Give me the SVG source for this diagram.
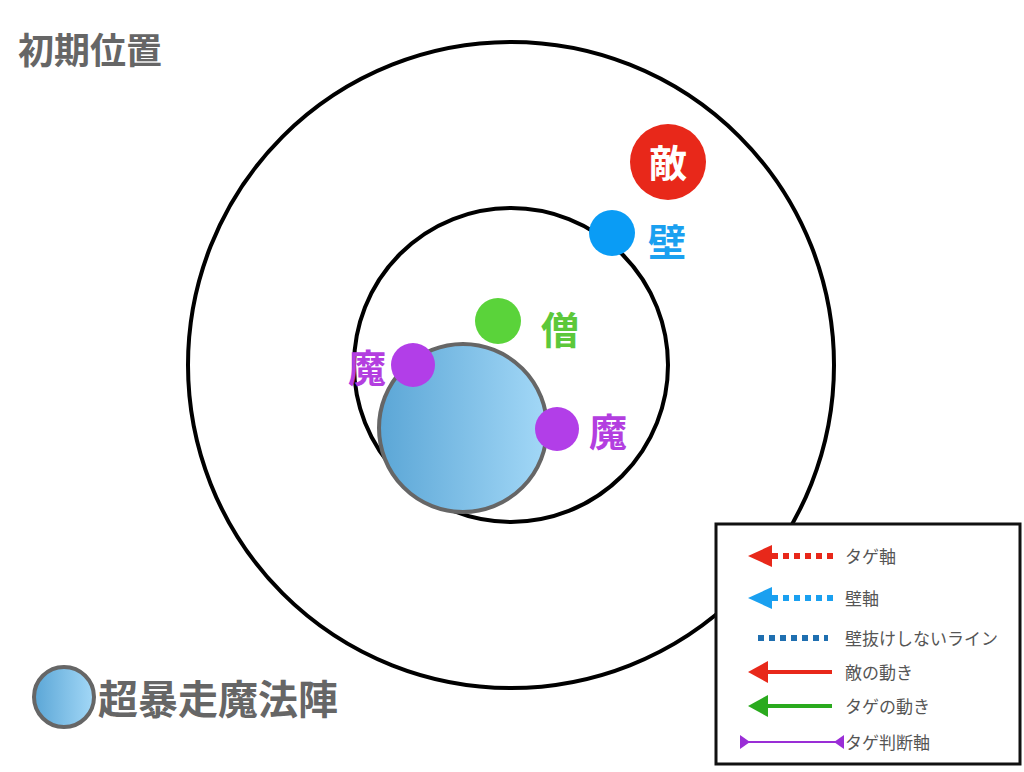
<svg xmlns="http://www.w3.org/2000/svg" width="1024" height="772" viewBox="0 0 1024 772">
<defs>
<linearGradient id="mg" x1="0" y1="0" x2="1" y2="0"><stop offset="0" stop-color="#5ba6d6"/><stop offset="1" stop-color="#a3d8f7"/></linearGradient>
<style>
.t{font-family:"Liberation Sans","Noto Sans CJK JP",sans-serif;font-weight:bold}
.lg{font-family:"Liberation Sans","Noto Sans CJK JP",sans-serif;font-size:17px;fill:#555}
.ring{fill:none;stroke:#000;stroke-width:4}
</style>
</defs>
<rect width="1024" height="772" fill="#fff"/>
<text class="t" x="18" y="64" font-size="36" fill="#666">初期位置</text>
<g id="outer"><circle class="ring" cx="511" cy="365" r="323"/></g>
<g id="inner"><circle class="ring" cx="511" cy="365" r="157"/></g>
<g id="magic"><circle cx="463" cy="428" r="84" fill="url(#mg)" stroke="#666" stroke-width="4"/></g>
<g id="enemy"><circle cx="668" cy="162" r="38" fill="#e8281a"/><text class="t" x="668" y="177" font-size="38" fill="#fff" text-anchor="middle">敵</text></g>
<g id="wall"><circle cx="612" cy="233" r="23" fill="#0a9cf5"/><text class="t" x="667" y="256" font-size="38" fill="#1aa0f0" text-anchor="middle">壁</text></g>
<g id="priest"><circle cx="498" cy="321" r="23" fill="#5ad33a"/><text class="t" x="560" y="344" font-size="38" fill="#5cc83a" text-anchor="middle">僧</text></g>
<g id="mage1"><circle cx="413" cy="365" r="22" fill="#b23ee8"/><text class="t" x="367" y="382" font-size="38" fill="#b33ee0" text-anchor="middle">魔</text></g>
<g id="mage2"><circle cx="557" cy="429" r="22" fill="#b23ee8"/><text class="t" x="608" y="446" font-size="38" fill="#b33ee0" text-anchor="middle">魔</text></g>
<g id="key"><circle cx="64" cy="697" r="30" fill="url(#mg)" stroke="#666" stroke-width="4"/><text class="t" x="98" y="714" font-size="40" fill="#666">超暴走魔法陣</text></g>
<g id="legend">
<rect x="716" y="524" width="304" height="240" fill="#fff" stroke="#111" stroke-width="3"/>
<g stroke-width="6">
<polygon points="748,556 772,545 772,567" fill="#e8281a"/><line x1="772" y1="556" x2="834" y2="556" stroke="#e8281a" stroke-dasharray="6,5"/>
<polygon points="748,598 772,587 772,609" fill="#1aa0f0"/><line x1="772" y1="598" x2="834" y2="598" stroke="#1aa0f0" stroke-dasharray="6,5"/>
<line x1="758" y1="638" x2="828" y2="638" stroke="#1f6fb0" stroke-dasharray="6,5"/>
<polygon points="748,672 768,661 768,683" fill="#e8281a"/><line x1="766" y1="672" x2="832" y2="672" stroke="#e8281a" stroke-width="4"/>
<polygon points="748,706 768,695 768,717" fill="#2aaa1e"/><line x1="766" y1="706" x2="832" y2="706" stroke="#2aaa1e" stroke-width="4"/>
<line x1="740" y1="742" x2="844" y2="742" stroke="#9a2ed6" stroke-width="2"/>
<polygon points="740,735 750,742 740,749" fill="#9a2ed6"/><polygon points="844,735 834,742 844,749" fill="#9a2ed6"/>
</g>
<text class="lg" x="845" y="563">タゲ軸</text>
<text class="lg" x="845" y="605">壁軸</text>
<text class="lg" x="845" y="645">壁抜けしないライン</text>
<text class="lg" x="845" y="679">敵の動き</text>
<text class="lg" x="845" y="713">タゲの動き</text>
<text class="lg" x="845" y="749">タゲ判断軸</text>
</g>
</svg>
